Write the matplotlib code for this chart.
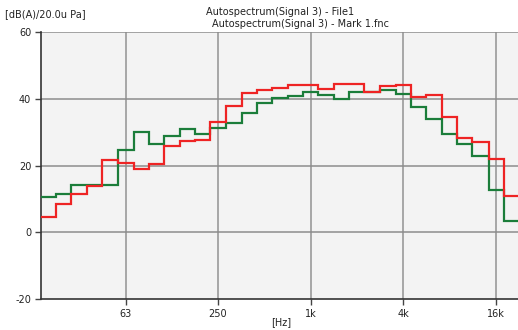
#!/usr/bin/env python

import numpy as np
import matplotlib
matplotlib.use("Agg")
import matplotlib.pyplot as plt

# third-octave band centres, 20 Hz .. 20 kHz
bands = [20, 25, 31.5, 40, 50, 63, 80, 100, 125, 160, 200, 250, 315, 400, 500,
         630, 800, 1000, 1250, 1600, 2000, 2500, 3150, 4000, 5000, 6300, 8000,
         10000, 12500, 16000, 20000]

file1 = [10.6, 11.6, 14.2, 14.2, 14.2, 24.6, 29.9, 26.3, 28.9, 30.9, 29.4, 31.1,
         32.8, 35.6, 38.6, 40.3, 40.8, 41.9, 41.2, 40.0, 42.1, 42.1, 42.7, 41.3,
         37.5, 33.8, 29.5, 26.4, 22.9, 12.7, 3.5]
mark1 = [4.6, 8.4, 11.6, 13.9, 21.6, 20.8, 19.1, 20.5, 25.9, 27.4, 27.6, 33.0,
         37.8, 41.6, 42.6, 43.1, 44.2, 44.2, 43.0, 44.5, 44.5, 42.1, 43.9, 44.2,
         40.6, 41.1, 34.6, 28.1, 27.0, 21.9, 10.8]

xticks = [63, 250, 1000, 4000, 16000]
xticklabels = ['63', '250', '1k', '4k', '16k']
yticks = [-20, 0, 20, 40, 60]

plt.rcParams['axes.unicode_minus'] = False

c = np.array(bands, dtype=float)
edges = np.concatenate([c / 2 ** (1 / 6), [c[-1] * 2 ** (1 / 6)]])

fig = plt.figure(figsize=(5.18, 3.30), dpi=100)
ax = fig.add_axes([41 / 518, 31 / 330, 478 / 518, 267 / 330])
ax.set_facecolor('#f3f3f3')

ax.set_xscale('log')
ax.set_xlim(edges[0], edges[-1])
ax.set_ylim(-20, 60)

for x in xticks:
    ax.axvline(x, color='#a0a0a0', lw=1.3, zorder=1)
for y in yticks[1:]:
    ax.axhline(y, color='#8c8c8c', lw=1.1, zorder=1)

ax.stairs(file1, edges, color='#1b7d3a', lw=1.6, baseline=None, zorder=3)
ax.stairs(mark1, edges, color='#ee2424', lw=1.6, baseline=None, zorder=4)

ax.set_xticks(xticks)
ax.set_xticklabels(xticklabels)
ax.xaxis.set_minor_locator(matplotlib.ticker.NullLocator())
ax.set_yticks(yticks)
ax.tick_params(axis='both', labelsize=7, length=4, width=1, color='#444444',
               labelcolor='#222222', pad=3)

for s in ['top', 'right']:
    ax.spines[s].set_visible(False)
for s in ['left', 'bottom']:
    ax.spines[s].set_color('#333333')
    ax.spines[s].set_linewidth(1.2)

fig.text(5 / 518, 1 - 14 / 330, '[dB(A)/20.0u Pa]', fontsize=7,
         color='#222222', va='center', ha='left')
fig.text(280 / 518, 1 - 12 / 330, 'Autospectrum(Signal 3) - File1', fontsize=7,
         color='#222222', va='center', ha='center')
fig.text(301 / 518, 1 - 24 / 330, 'Autospectrum(Signal 3) - Mark 1.fnc', fontsize=7,
         color='#222222', va='center', ha='center')
fig.text(281 / 518, 1 - 322 / 330, '[Hz]', fontsize=7,
         color='#222222', va='center', ha='center')

fig.savefig('out.png', dpi=100)
